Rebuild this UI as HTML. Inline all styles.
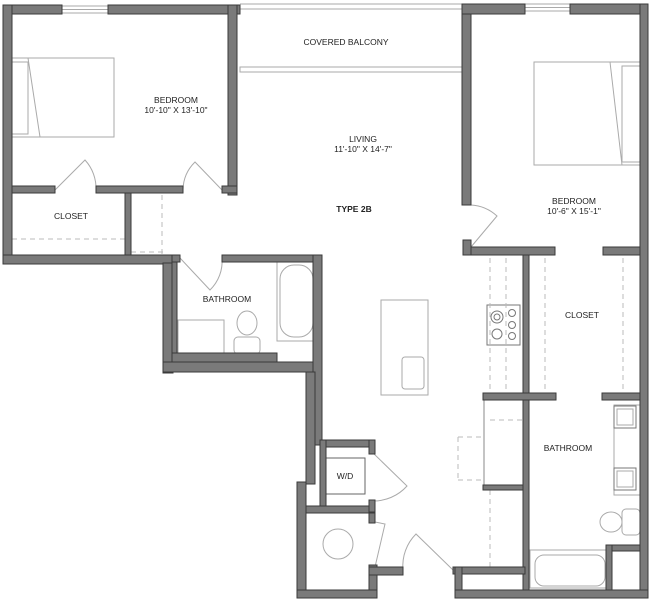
<!DOCTYPE html>
<html><head><meta charset="utf-8"><style>
html,body{margin:0;padding:0;background:#fff;}
svg{display:block}
text{font-family:"Liberation Sans",sans-serif;font-size:8.5px;fill:#222;text-anchor:middle}
</style></head><body>
<svg width="650" height="600" viewBox="0 0 650 600" xmlns="http://www.w3.org/2000/svg">
<g fill="none" stroke="#aaa" stroke-width="1">
<rect x="62" y="6" width="46" height="7"/><line x1="62" y1="9.5" x2="108" y2="9.5"/>
<rect x="525" y="4" width="45" height="7"/><line x1="525" y1="7.5" x2="570" y2="7.5"/>
<line x1="240" y1="4" x2="462" y2="4"/><line x1="240" y1="9" x2="462" y2="9"/>
<rect x="240" y="67" width="222" height="5"/>
<rect x="12" y="58" width="102" height="79"/><rect x="12" y="62" width="16" height="72"/><line x1="28" y1="58" x2="40" y2="137"/>
<rect x="534" y="62" width="106" height="103"/><rect x="622" y="66" width="18" height="96"/><line x1="610" y1="62" x2="622" y2="165"/>
<rect x="381" y="300" width="47" height="95"/><rect x="402" y="357" width="22" height="32" rx="3"/>
<rect x="487" y="305" width="33" height="40" stroke="#777"/>
<circle cx="497" cy="317" r="6" stroke="#777"/><circle cx="497" cy="317" r="3" stroke="#777"/><circle cx="497" cy="334" r="5" stroke="#777"/>
<circle cx="512" cy="313" r="3.5" stroke="#777"/><circle cx="512" cy="325" r="3.5" stroke="#777"/><circle cx="512" cy="336" r="3.5" stroke="#777"/>
<rect x="280" y="265" width="33" height="72" rx="14"/><rect x="277" y="262" width="39" height="79"/>
<ellipse cx="247" cy="323" rx="10" ry="12"/><rect x="234" y="337" width="26" height="17" rx="4"/>
<rect x="178" y="320" width="46" height="33"/>
<rect x="326" y="458" width="39" height="36" stroke="#666"/>
<circle cx="338" cy="544" r="15"/>
<rect x="535" y="555" width="70" height="31" rx="9"/><rect x="530" y="550" width="78" height="38"/>
<rect x="614" y="405" width="26" height="90"/>
<rect x="614" y="406" width="22" height="22" stroke="#777"/><rect x="617" y="409" width="16" height="16"/>
<rect x="614" y="468" width="22" height="22" stroke="#777"/><rect x="617" y="471" width="16" height="16"/>
<ellipse cx="611" cy="522" rx="11" ry="10"/><rect x="622" y="509" width="18" height="26" rx="4"/>
<line x1="484" y1="400" x2="484" y2="485" stroke="#888"/>
<path d="M55 190 L85 160 A42 42 0 0 1 96 190"/>
<path d="M222 190 L195 162 A40 40 0 0 0 183 190"/>
<path d="M471 205 A42 42 0 0 1 497 216 L471 247"/>
<path d="M180 258 L210 290 A40 40 0 0 0 222 258"/>
<path d="M372 452 L407 486 A45 45 0 0 1 372 501"/>
<path d="M375 522 L385 524 L375 567"/>
<path d="M403 570 A45 45 0 0 1 416 534 L453 570"/>
</g>
<g fill="none" stroke="#bbb" stroke-width="1" stroke-dasharray="5,4">
<line x1="12" y1="239" x2="125" y2="239"/><line x1="131" y1="252" x2="165" y2="252"/>
<line x1="162" y1="195" x2="162" y2="255"/>
<line x1="490" y1="258" x2="490" y2="393"/><line x1="506" y1="258" x2="506" y2="393"/>
<line x1="545" y1="258" x2="545" y2="393"/><line x1="623" y1="258" x2="623" y2="393"/>
<line x1="490" y1="420" x2="523" y2="420"/><line x1="458" y1="437" x2="458" y2="480"/>
<line x1="458" y1="437" x2="483" y2="437"/><line x1="458" y1="480" x2="483" y2="480"/>
<line x1="490" y1="490" x2="490" y2="567"/>
</g>
<g fill="#7a7a7a" stroke="#3a3a3a" stroke-width="1">
<rect x="3" y="5" width="59" height="9"/><rect x="108" y="5" width="132" height="9"/>
<rect x="3" y="5" width="9" height="258"/>
<rect x="228" y="5" width="9" height="190"/>
<rect x="12" y="186" width="43" height="7"/><rect x="96" y="186" width="87" height="7"/><rect x="222" y="186" width="15" height="7"/>
<rect x="125" y="193" width="6" height="62"/>
<rect x="3" y="255" width="169" height="9"/>
<rect x="462" y="5" width="9" height="200"/>
<rect x="462" y="4" width="63" height="10"/><rect x="570" y="4" width="78" height="10"/>
<rect x="640" y="4" width="8" height="594"/>
<rect x="463" y="247" width="92" height="8"/><rect x="603" y="247" width="37" height="8"/>
<rect x="463" y="240" width="8" height="15"/>
<rect x="523" y="255" width="6" height="343"/>
<rect x="483" y="393" width="73" height="7"/><rect x="602" y="393" width="38" height="7"/>
<rect x="483" y="485" width="40" height="5"/>
<rect x="163" y="263" width="10" height="110"/>
<rect x="172" y="255" width="8" height="7"/><rect x="222" y="255" width="100" height="7"/>
<rect x="172" y="262" width="5" height="94"/>
<rect x="172" y="353" width="105" height="9"/>
<rect x="163" y="362" width="153" height="10"/>
<rect x="313" y="255" width="9" height="190"/>
<rect x="306" y="372" width="9" height="112"/>
<rect x="320" y="440" width="55" height="7"/><rect x="320" y="440" width="6" height="72"/>
<rect x="369" y="440" width="6" height="14"/>
<rect x="306" y="506" width="69" height="7"/><rect x="369" y="500" width="6" height="12"/>
<rect x="297" y="482" width="9" height="116"/>
<rect x="369" y="513" width="6" height="10"/><rect x="369" y="565" width="8" height="33"/>
<rect x="369" y="567" width="34" height="8"/>
<rect x="297" y="590" width="80" height="8"/>
<rect x="453" y="567" width="72" height="7"/><rect x="455" y="567" width="7" height="31"/>
<rect x="455" y="590" width="193" height="8"/>
<rect x="606" y="545" width="34" height="6"/><rect x="606" y="545" width="6" height="45"/>
</g>
<text x="346" y="45">COVERED BALCONY</text>
<text x="176" y="103">BEDROOM</text>
<text x="176" y="113">10'-10" X 13'-10"</text>
<text x="363" y="142">LIVING</text>
<text x="363" y="152">11'-10" X 14'-7"</text>
<text x="354" y="212" font-weight="bold">TYPE 2B</text>
<text x="574" y="204">BEDROOM</text>
<text x="574" y="214">10'-6" X 15'-1"</text>
<text x="71" y="219">CLOSET</text>
<text x="227" y="302">BATHROOM</text>
<text x="582" y="318">CLOSET</text>
<text x="568" y="451">BATHROOM</text>
<text x="345" y="479">W/D</text>
</svg>
</body></html>
